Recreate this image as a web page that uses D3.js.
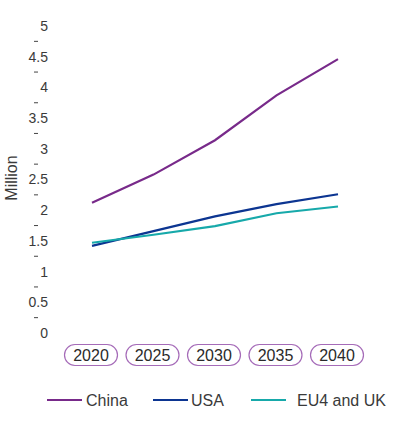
<!DOCTYPE html>
<html>
<head>
<meta charset="utf-8">
<script src="https://cdn.jsdelivr.net/npm/d3@7"></script>
<style>
  body { margin: 0; background: #fff; }
  svg { display: block; font-family: "Liberation Sans", Arial, sans-serif; }
</style>
</head>
<body>
<svg width="394" height="422"></svg>
<script>
const years = ["2020", "2025", "2030", "2035", "2040"];
const china = [2.12, 2.58, 3.14, 3.87, 4.46];
const usa = [1.42, 1.66, 1.9, 2.1, 2.26];
const eu = [1.47, 1.6, 1.74, 1.95, 2.06];
const yTicks = [0, 0.5, 1, 1.5, 2, 2.5, 3, 3.5, 4, 4.5, 5];
const seriesNames = ["China", "USA", "EU4 and UK"];
const colors = ["#782a8a", "#0c3591", "#17a9aa"];

const svg = d3.select("svg");

const x = d3.scalePoint().domain(years).range([92, 338]);
const y = d3.scaleLinear().domain([0, 5]).range([333, 26]);

// y tick labels
svg.append("g").selectAll("text")
    .data(yTicks)
    .enter().append("text")
    .attr("x", 48)
    .attr("y", d => y(d))
    .attr("dy", "0.35em")
    .attr("text-anchor", "end")
    .attr("font-size", 14)
    .attr("fill", "#3a3a3a")
    .text(d => d);

// little dashes between labels
svg.append("g").selectAll("line")
    .data(yTicks.slice(0, -1))
    .enter().append("line")
    .attr("x1", 34).attr("x2", 38)
    .attr("y1", d => y(d + 0.25)).attr("y2", d => y(d + 0.25))
    .attr("stroke", "#444")
    .attr("stroke-width", 1);

svg.append("text")
    .attr("transform", "translate(17,178) rotate(-90)")
    .attr("text-anchor", "middle")
    .attr("font-size", 16)
    .attr("fill", "#3a3a3a")
    .text("Million");

// x labels in pills
const xl = svg.append("g").selectAll("g")
    .data(years)
    .enter().append("g")
    .attr("transform", d => `translate(${x(d) - 1},355)`);
xl.append("rect")
    .attr("x", -26.5).attr("y", -10.5)
    .attr("width", 53).attr("height", 21)
    .attr("rx", 10.5)
    .attr("fill", "none")
    .attr("stroke", "#a56bb8")
    .attr("stroke-width", 1.2);
xl.append("text")
    .attr("dy", "0.36em")
    .attr("text-anchor", "middle")
    .attr("font-size", 16)
    .attr("fill", "#2a2a2a")
    .text(d => d);

// lines
const line = d3.line()
    .x((d, i) => x(years[i]))
    .y(d => y(d));

[china, usa, eu].forEach((s, i) => {
    svg.append("path")
        .datum(s)
        .attr("fill", "none")
        .attr("stroke", colors[i])
        .attr("stroke-width", 2.2)
        .attr("d", line);
});

// legend
const legendX = [47, 153, 251];
const textX = [86, 191, 297];
seriesNames.forEach((n, i) => {
    svg.append("line")
        .attr("x1", legendX[i]).attr("x2", legendX[i] + 35)
        .attr("y1", 400).attr("y2", 400)
        .attr("stroke", colors[i])
        .attr("stroke-width", 2.2);
    svg.append("text")
        .attr("x", textX[i])
        .attr("y", 400)
        .attr("dy", "0.35em")
        .attr("font-size", 16)
        .attr("fill", "#3a3a3a")
        .text(n);
});
</script>
</body>
</html>
